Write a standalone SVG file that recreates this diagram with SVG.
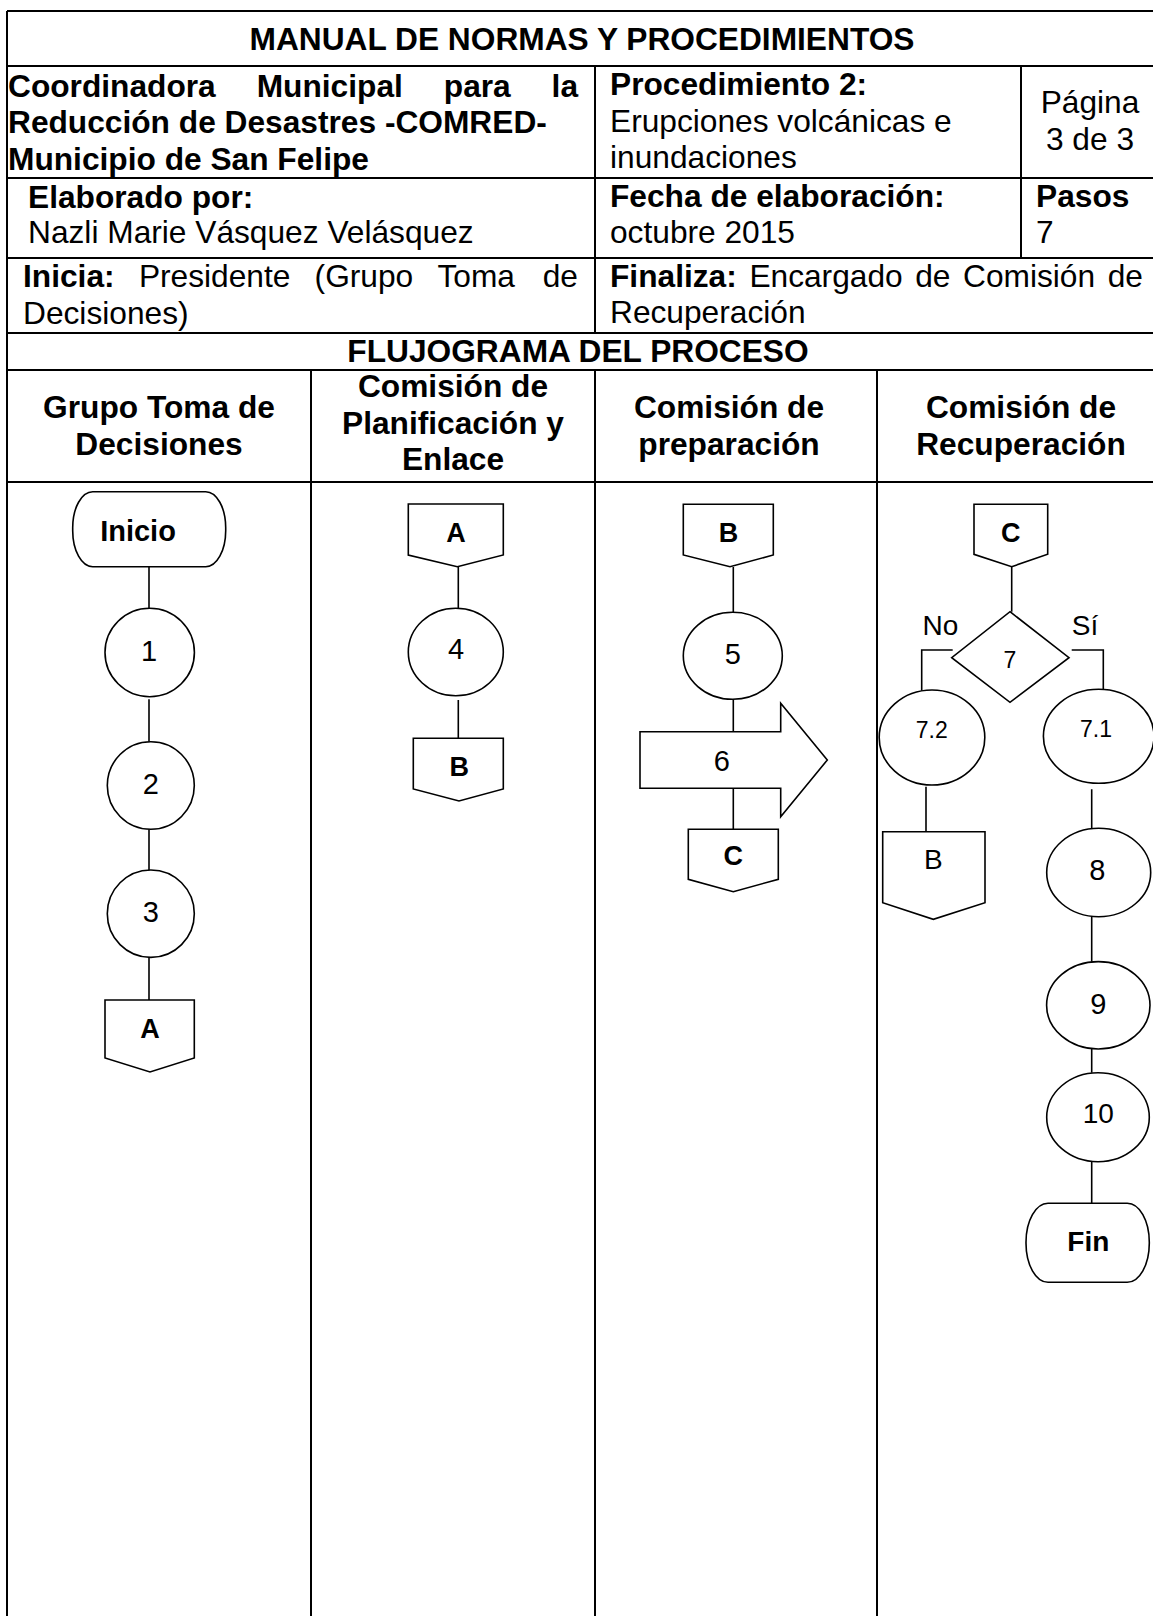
<svg xmlns="http://www.w3.org/2000/svg" width="1153" height="1616" viewBox="0 0 1153 1616">
<style>
  text { font-family: "Liberation Sans", Arial, sans-serif; fill: #000; }
  .h { font-size: 31.7px; }
  .b { font-weight: bold; }
  .c { text-anchor: middle; }
  .grid { stroke: #000; stroke-width: 2; fill: none; }
  .shape { stroke: #000; stroke-width: 1.6; fill: #fff; }
  .conn { stroke: #000; stroke-width: 1.6; fill: none; }
  .lbl { font-size: 29px; text-anchor: middle; }
  .sm { font-size: 23px; text-anchor: middle; }
</style>
<rect x="0" y="0" width="1153" height="1616" fill="#fff"/>

<g id="table">
  <path class="grid" d="M7,11 H1153 M7,11 V1616 M7,66 H1153 M7,178 H1153 M7,258 H1153 M7,333 H1153 M7,370 H1153 M7,482 H1153 M595,66 V333 M1021,66 V258 M595,370 V1616 M311,370 V1616 M877,370 V1616"/>
  <text class="h b c" x="582" y="50">MANUAL DE NORMAS Y PROCEDIMIENTOS</text>
  <text class="h b" y="97"><tspan x="8">Coordinadora</tspan><tspan x="256.7">Municipal</tspan><tspan x="443.8">para</tspan><tspan x="551.6">la</tspan></text>
  <text class="h b" x="8" y="133">Reducción de Desastres -COMRED-</text>
  <text class="h b" x="8" y="170">Municipio de San Felipe</text>
  <text class="h b" x="610" y="95">Procedimiento 2:</text>
  <text class="h" x="610" y="132">Erupciones volcánicas e</text>
  <text class="h" x="610" y="168">inundaciones</text>
  <text class="h c" x="1090" y="113">Página</text>
  <text class="h c" x="1090" y="150">3 de 3</text>
  <text class="h b" x="28" y="208">Elaborado por:</text>
  <text class="h" x="28" y="243">Nazli Marie Vásquez Velásquez</text>
  <text class="h b" x="610" y="207">Fecha de elaboración:</text>
  <text class="h" x="610" y="243">octubre 2015</text>
  <text class="h b" x="1036" y="207">Pasos</text>
  <text class="h" x="1036" y="243">7</text>
  <text class="h" y="287"><tspan class="b" x="23">Inicia:</tspan><tspan x="138.9">Presidente</tspan><tspan x="314.6">(Grupo</tspan><tspan x="437.5">Toma</tspan><tspan x="542.7">de</tspan></text>
  <text class="h" x="23" y="324">Decisiones)</text>
  <text class="h" y="287"><tspan class="b" x="610">Finaliza:</tspan><tspan x="749.4">Encargado</tspan><tspan x="915.2">de</tspan><tspan x="963">Comisión</tspan><tspan x="1107.7">de</tspan></text>
  <text class="h" x="610" y="323">Recuperación</text>
  <text class="h b c" x="578" y="362">FLUJOGRAMA DEL PROCESO</text>
  <text class="h b c" x="159" y="418">Grupo Toma de</text>
  <text class="h b c" x="159" y="455">Decisiones</text>
  <text class="h b c" x="453" y="397">Comisión de</text>
  <text class="h b c" x="453" y="434">Planificación y</text>
  <text class="h b c" x="453" y="470">Enlace</text>
  <text class="h b c" x="729" y="418">Comisión de</text>
  <text class="h b c" x="729" y="455">preparación</text>
  <text class="h b c" x="1021" y="418">Comisión de</text>
  <text class="h b c" x="1021" y="455">Recuperación</text>
</g>

<g id="connectors">
  <path class="conn" d="M149,566.7 V608.3 M149,699.3 V741.7 M149,829.3 V870 M149,957.3 V1000"/>
  <path class="conn" d="M458.3,566.7 V608.3 M458.3,700 V738.3"/>
  <path class="conn" d="M733.3,567 V612.3 M733.3,699.3 V731.7 M733.3,788.3 V829.3"/>
  <path class="conn" d="M1011.7,567 V611.7"/>
  <polyline class="conn" points="952.7,650 921.7,650 921.7,690.7"/>
  <polyline class="conn" points="1071.7,650 1103.3,650 1103.3,689.3"/>
  <path class="conn" d="M926,786.7 V831.7 M1091.7,789.3 V828.3 M1091.7,917 V961.7 M1091.7,1049 V1072.7 M1091.7,1161.7 V1203.3"/>
  <text class="lbl" x="940.5" y="635" style="font-size:28px">No</text>
  <text class="lbl" x="1085" y="635" style="font-size:28px">Sí</text>
</g>

<g id="inicio">
  <rect class="shape" x="72.7" y="491.7" width="153" height="75" rx="20" ry="36"/>
  <text class="lbl b" x="138" y="540.7">Inicio</text>
</g>
<g id="n1">
  <ellipse class="shape" cx="149.7" cy="652.5" rx="44.7" ry="44.2"/>
  <text class="lbl" x="149" y="661">1</text>
</g>
<g id="n2">
  <ellipse class="shape" cx="150.8" cy="785.5" rx="43.5" ry="43.8"/>
  <text class="lbl" x="150.7" y="793.5">2</text>
</g>
<g id="n3">
  <ellipse class="shape" cx="150.8" cy="913.7" rx="43.5" ry="43.7"/>
  <text class="lbl" x="150.7" y="921.5">3</text>
</g>
<g id="offA1">
  <polygon class="shape" points="105,1000 194.3,1000 194.3,1058 150,1072 105,1058"/>
  <text class="lbl b" x="150" y="1038" style="font-size:27px">A</text>
</g>

<g id="offA2">
  <polygon class="shape" points="408.3,504 503.3,504 503.3,555 457.3,566.7 408.3,555"/>
  <text class="lbl b" x="456" y="541.7" style="font-size:27px">A</text>
</g>
<g id="n4">
  <ellipse class="shape" cx="455.8" cy="652" rx="47.5" ry="43.8"/>
  <text class="lbl" x="456" y="659">4</text>
</g>
<g id="offB2">
  <polygon class="shape" points="413.3,738.3 503.3,738.3 503.3,789 459,801 413.3,789"/>
  <text class="lbl b" x="459.3" y="776" style="font-size:27px">B</text>
</g>

<g id="offB3">
  <polygon class="shape" points="683.3,504.3 773.3,504.3 773.3,555 730,566.7 683.3,555"/>
  <text class="lbl b" x="728.5" y="541.7" style="font-size:27px">B</text>
</g>
<g id="n5">
  <ellipse class="shape" cx="732.8" cy="655.8" rx="49.5" ry="43.5"/>
  <text class="lbl" x="732.7" y="663.5">5</text>
</g>
<g id="n6">
  <polygon class="shape" points="640,731.7 780.7,731.7 780.7,703.3 827.3,760 780.7,816.7 780.7,788.3 640,788.3"/>
  <text class="lbl" x="721.7" y="770.5">6</text>
</g>
<g id="offC3">
  <polygon class="shape" points="688.3,829.3 778.3,829.3 778.3,879.3 733.3,891.7 688.3,879.3"/>
  <text class="lbl b" x="733.3" y="865" style="font-size:27px">C</text>
</g>

<g id="offC4">
  <polygon class="shape" points="974,504.3 1047.7,504.3 1047.7,554.3 1011.7,566.7 974,554.3"/>
  <text class="lbl b" x="1010.7" y="541.7" style="font-size:27px">C</text>
</g>
<g id="d7">
  <polygon class="shape" points="1010,611.7 1069,657.7 1010,702.3 951.7,657.7"/>
  <text class="sm" x="1010" y="668.3">7</text>
</g>
<g id="n72">
  <ellipse class="shape" cx="932" cy="737.5" rx="52.8" ry="47.5"/>
  <text class="sm" x="931.7" y="738">7.2</text>
</g>
<g id="n71">
  <ellipse class="shape" cx="1098.7" cy="736.3" rx="55.3" ry="47"/>
  <text class="sm" x="1096" y="737">7.1</text>
</g>
<g id="offB4">
  <polygon class="shape" points="882.7,831.7 985,831.7 985,902.7 933.3,919.3 882.7,902.7"/>
  <text class="lbl" x="933.3" y="869.3" style="font-size:28px">B</text>
</g>
<g id="n8">
  <ellipse class="shape" cx="1098.7" cy="872.5" rx="52" ry="44.2"/>
  <text class="lbl" x="1097.3" y="880">8</text>
</g>
<g id="n9">
  <ellipse class="shape" cx="1098.3" cy="1005.3" rx="51.7" ry="43.7"/>
  <text class="lbl" x="1098.3" y="1014">9</text>
</g>
<g id="n10">
  <ellipse class="shape" cx="1098" cy="1117.2" rx="51.3" ry="44.5"/>
  <text class="lbl" x="1098.3" y="1122.5" style="font-size:28px">10</text>
</g>
<g id="fin">
  <rect class="shape" x="1026" y="1203.3" width="123.3" height="79" rx="22" ry="39"/>
  <text class="lbl b" x="1088.3" y="1250.7" style="font-size:28px">Fin</text>
</g>
</svg>
